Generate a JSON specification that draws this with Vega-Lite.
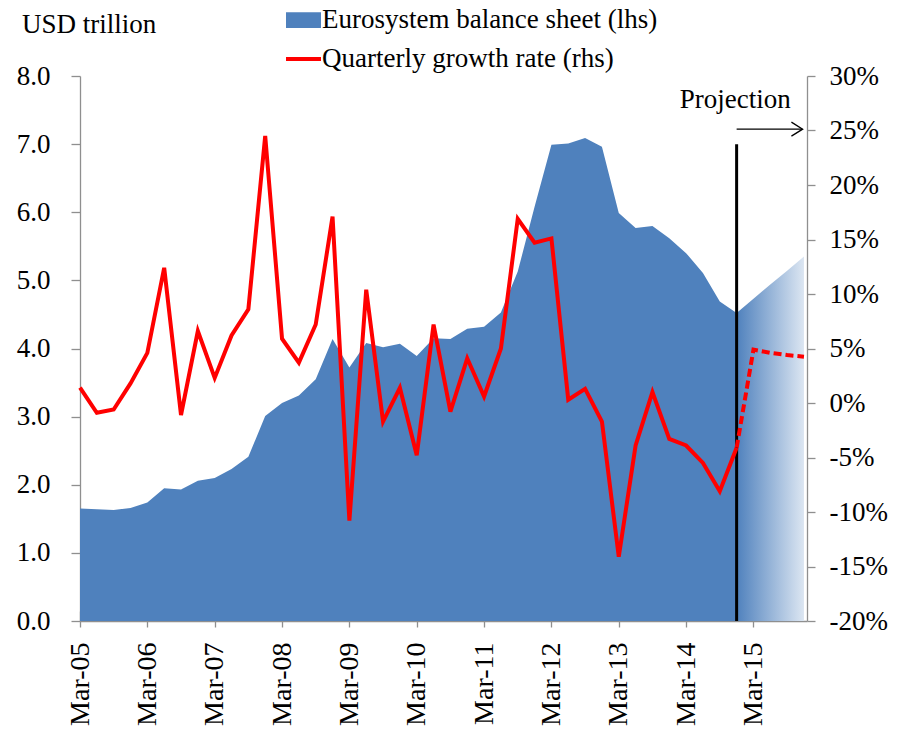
{
  "$schema": "https://vega.github.io/schema/vega-lite/v6.json",
  "width": 727,
  "height": 545,
  "autosize": "none",
  "padding": {"left": 80, "top": 76, "right": 95, "bottom": 116},
  "background": "white",
  "config": {
    "view": {"stroke": null},
    "font": "Liberation Serif",
    "axis": {
      "domainColor": "#8F8F8F",
      "tickColor": "#8F8F8F",
      "domainWidth": 1.3,
      "tickWidth": 1.3,
      "labelFont": "Liberation Serif",
      "labelFontSize": 27,
      "labelColor": "black",
      "grid": false,
      "zindex": 1,
      "labelOverlap": false,
      "labelFlush": false
    },
    "legend": {
      "labelFont": "Liberation Serif", "labelFontSize": 27, "labelColor": "black"
    }
  },
  "datasets": {
    "series": [
      {"t": 0, "quarter": "Mar-05", "balance": 1.65, "growth": 1.4},
      {"t": 1, "quarter": "Jun-05", "balance": 1.64, "growth": -0.9},
      {"t": 2, "quarter": "Sep-05", "balance": 1.63, "growth": -0.6},
      {"t": 3, "quarter": "Dec-05", "balance": 1.66, "growth": 1.8},
      {"t": 4, "quarter": "Mar-06", "balance": 1.74, "growth": 4.6},
      {"t": 5, "quarter": "Jun-06", "balance": 1.95, "growth": 12.4},
      {"t": 6, "quarter": "Sep-06", "balance": 1.93, "growth": -1.1},
      {"t": 7, "quarter": "Dec-06", "balance": 2.06, "growth": 6.6},
      {"t": 8, "quarter": "Mar-07", "balance": 2.10, "growth": 2.3},
      {"t": 9, "quarter": "Jun-07", "balance": 2.23, "growth": 6.2},
      {"t": 10, "quarter": "Sep-07", "balance": 2.41, "growth": 8.6},
      {"t": 11, "quarter": "Dec-07", "balance": 3.01, "growth": 24.5},
      {"t": 12, "quarter": "Mar-08", "balance": 3.20, "growth": 5.9},
      {"t": 13, "quarter": "Jun-08", "balance": 3.31, "growth": 3.7},
      {"t": 14, "quarter": "Sep-08", "balance": 3.55, "growth": 7.2},
      {"t": 15, "quarter": "Dec-08", "balance": 4.14, "growth": 17.1},
      {"t": 16, "quarter": "Mar-09", "balance": 3.72, "growth": -10.8},
      {"t": 17, "quarter": "Jun-09", "balance": 4.08, "growth": 10.4},
      {"t": 18, "quarter": "Sep-09", "balance": 4.02, "growth": -1.7},
      {"t": 19, "quarter": "Dec-09", "balance": 4.07, "growth": 1.4},
      {"t": 20, "quarter": "Mar-10", "balance": 3.89, "growth": -4.8},
      {"t": 21, "quarter": "Jun-10", "balance": 4.15, "growth": 7.2},
      {"t": 22, "quarter": "Sep-10", "balance": 4.14, "growth": -0.8},
      {"t": 23, "quarter": "Dec-10", "balance": 4.29, "growth": 4.1},
      {"t": 24, "quarter": "Mar-11", "balance": 4.32, "growth": 0.6},
      {"t": 25, "quarter": "Jun-11", "balance": 4.53, "growth": 5.0},
      {"t": 26, "quarter": "Sep-11", "balance": 5.13, "growth": 16.9},
      {"t": 27, "quarter": "Dec-11", "balance": 6.08, "growth": 14.7},
      {"t": 28, "quarter": "Mar-12", "balance": 6.99, "growth": 15.1},
      {"t": 29, "quarter": "Jun-12", "balance": 7.01, "growth": 0.3},
      {"t": 30, "quarter": "Sep-12", "balance": 7.09, "growth": 1.3},
      {"t": 31, "quarter": "Dec-12", "balance": 6.96, "growth": -1.7},
      {"t": 32, "quarter": "Mar-13", "balance": 5.99, "growth": -14.1},
      {"t": 33, "quarter": "Jun-13", "balance": 5.77, "growth": -3.9},
      {"t": 34, "quarter": "Sep-13", "balance": 5.80, "growth": 1.0},
      {"t": 35, "quarter": "Dec-13", "balance": 5.62, "growth": -3.3},
      {"t": 36, "quarter": "Mar-14", "balance": 5.40, "growth": -3.9},
      {"t": 37, "quarter": "Jun-14", "balance": 5.11, "growth": -5.5},
      {"t": 38, "quarter": "Sep-14", "balance": 4.69, "growth": -8.1},
      {"t": 39, "quarter": "Dec-14", "balance": 4.52, "growth": -4.1},
      {"t": 40, "quarter": "Mar-15", "balance": 4.73, "growth": 4.9},
      {"t": 41, "quarter": "Jun-15", "balance": 4.94, "growth": 4.6},
      {"t": 42, "quarter": "Sep-15", "balance": 5.14, "growth": 4.4},
      {"t": 43, "quarter": "Dec-15", "balance": 5.35, "growth": 4.25}
    ],
    "note": [{"label": "Projection"}],
    "unit": [{"label": "USD trillion"}]
  },
  "data": {"name": "series"},
  "layer": [
    {
      "layer": [
        {
          "transform": [{"filter": "datum.t <= 39"}],
          "mark": {"type": "area", "opacity": 1, "line": false},
          "encoding": {
            "x": {
              "field": "t", "type": "quantitative",
              "scale": {"domain": [0, 43.18], "nice": false, "zero": false},
              "axis": {
                "title": null,
                "orient": "bottom",
                "values": [0,1,2,3,4,5,6,7,8,9,10,11,12,13,14,15,16,17,18,19,20,21,22,23,24,25,26,27,28,29,30,31,32,33,34,35,36,37,38,39,40,41,42,43],
                "tickSize": 6,
                "labelAngle": -90,
                "labelPadding": 15,
                "labelFontSize": 28,
                "labelExpr": "datum.value % 4 == 0 ? 'Mar-' + (datum.value / 4 + 5 < 10 ? '0' : '') + (datum.value / 4 + 5) : ''"
              }
            },
            "y": {
              "field": "balance", "type": "quantitative",
              "scale": {"domain": [0, 8], "nice": false},
              "axis": {
                "values": [0,1,2,3,4,5,6,7,8],
                "format": ".1f",
                "tickSize": 9,
                "labelPadding": 21,
                "title": null
              }
            },
            "color": {
              "datum": "Eurosystem balance sheet (lhs)",
              "scale": {"domain": ["Eurosystem balance sheet (lhs)", "Quarterly growth rate (rhs)"], "range": ["#4F81BD", "#FF0000"]},
              "legend": {
                "orient": "none", "legendX": 210, "legendY": -69.5,
                "direction": "vertical", "title": null, "padding": 0,
                "labelFont": "Liberation Serif", "labelFontSize": 27, "labelColor": "black",
                "labelOffset": 5, "rowPadding": 11, "symbolSize": 1225, "labelLimit": 800,
                "encode": {
                  "symbols": {
                    "update": {
                      "shape": {"signal": "datum.value === 'Quarterly growth rate (rhs)' ? 'stroke' : 'M-1,-0.45H1V0.45H-1Z'"},
                      "fill": {"signal": "datum.value === 'Quarterly growth rate (rhs)' ? 'transparent' : '#4F81BD'"},
                      "stroke": {"signal": "datum.value === 'Quarterly growth rate (rhs)' ? '#FF0000' : 'transparent'"},
                      "strokeWidth": {"signal": "datum.value === 'Quarterly growth rate (rhs)' ? 4 : 0"},
                      "opacity": {"value": 1}
                    }
                  }
                }
              }
            }
          }
        },
        {
          "transform": [{"filter": "datum.t >= 39"}],
          "mark": {
            "type": "area", "opacity": 1, "line": false,
            "color": {
              "gradient": "linear", "x1": 0, "x2": 1, "y1": 0, "y2": 0,
              "stops": [{"offset": 0, "color": "#4F81BD"}, {"offset": 1, "color": "#DCE6F2"}]
            }
          },
          "encoding": {
            "x": {"field": "t", "type": "quantitative"},
            "y": {"field": "balance", "type": "quantitative"}
          }
        },
        {
          "data": {"name": "note"},
          "mark": {"type": "rule", "color": "black", "strokeWidth": 3},
          "encoding": {
            "x": {"datum": 39, "type": "quantitative"},
            "y": {"datum": 0, "type": "quantitative"},
            "y2": {"datum": 7.0}
          }
        },
        {
          "data": {"name": "note"},
          "mark": {"type": "rule", "color": "black", "strokeWidth": 1.3},
          "encoding": {
            "x": {"datum": 39, "type": "quantitative"},
            "x2": {"datum": 42.9},
            "y": {"datum": 7.22, "type": "quantitative"}
          }
        },
        {
          "data": {"name": "note"},
          "mark": {"type": "point", "shape": "M-1.6,-1L0,0L-1.6,1", "filled": false, "stroke": "black", "strokeWidth": 1.3, "size": 196, "opacity": 1},
          "encoding": {
            "x": {"datum": 42.92, "type": "quantitative"},
            "y": {"datum": 7.22, "type": "quantitative"}
          }
        },
        {
          "data": {"name": "note"},
          "mark": {"type": "text", "font": "Liberation Serif", "fontSize": 27, "color": "black", "align": "center", "baseline": "alphabetic"},
          "encoding": {
            "text": {"field": "label"},
            "x": {"datum": 38.92, "type": "quantitative"},
            "y": {"datum": 7.53, "type": "quantitative"}
          }
        },
        {
          "data": {"name": "unit"},
          "mark": {"type": "text", "font": "Liberation Serif", "fontSize": 27, "color": "black", "align": "left", "baseline": "alphabetic"},
          "encoding": {
            "text": {"field": "label"},
            "x": {"datum": -3.45, "type": "quantitative"},
            "y": {"datum": 8.63, "type": "quantitative"}
          }
        }
      ]
    },
    {
      "layer": [
        {
          "transform": [{"filter": "datum.t <= 39"}],
          "mark": {"type": "line", "strokeWidth": 4},
          "encoding": {
            "x": {
              "field": "t", "type": "quantitative",
              "axis": {
                "title": null,
                "orient": "bottom",
                "values": [0,4,8,12,16,20,24,28,32,36,40],
                "tickSize": -10,
                "labels": false,
                "domain": false
              }
            },
            "y": {
              "field": "growth", "type": "quantitative",
              "scale": {"domain": [-20, 30], "nice": false, "zero": false},
              "axis": {
                "orient": "right",
                "title": null,
                "values": [-20,-15,-10,-5,0,5,10,15,20,25,30],
                "tickSize": 8,
                "labelPadding": 14,
                "labelExpr": "datum.value + '%'"
              }
            },
            "color": {
              "datum": "Quarterly growth rate (rhs)",
              "scale": {"domain": ["Eurosystem balance sheet (lhs)", "Quarterly growth rate (rhs)"], "range": ["#4F81BD", "#FF0000"]},
              "legend": {
                "orient": "none", "legendX": 210, "legendY": -69.5,
                "direction": "vertical", "title": null, "padding": 0,
                "labelFont": "Liberation Serif", "labelFontSize": 27, "labelColor": "black",
                "labelOffset": 5, "rowPadding": 11, "symbolSize": 1225, "labelLimit": 800,
                "encode": {
                  "symbols": {
                    "update": {
                      "shape": {"signal": "datum.value === 'Quarterly growth rate (rhs)' ? 'stroke' : 'M-1,-0.45H1V0.45H-1Z'"},
                      "fill": {"signal": "datum.value === 'Quarterly growth rate (rhs)' ? 'transparent' : '#4F81BD'"},
                      "stroke": {"signal": "datum.value === 'Quarterly growth rate (rhs)' ? '#FF0000' : 'transparent'"},
                      "strokeWidth": {"signal": "datum.value === 'Quarterly growth rate (rhs)' ? 4 : 0"},
                      "opacity": {"value": 1}
                    }
                  }
                }
              }
            }
          }
        },
        {
          "transform": [{"filter": "datum.t >= 39"}],
          "mark": {"type": "line", "strokeWidth": 4, "color": "#FF0000", "strokeDash": [8, 4]},
          "encoding": {
            "x": {"field": "t", "type": "quantitative"},
            "y": {"field": "growth", "type": "quantitative"}
          }
        }
      ]
    }
  ],
  "resolve": {"scale": {"y": "independent"}, "axis": {"x": "independent"}}
}
